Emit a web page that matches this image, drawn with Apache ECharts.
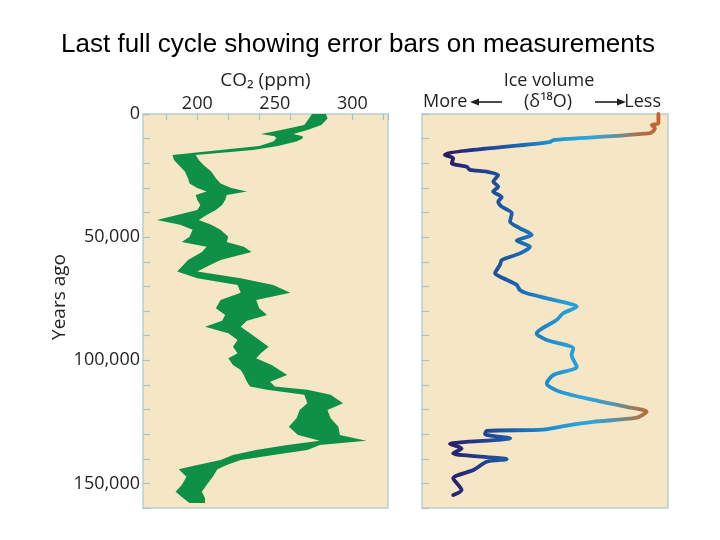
<!DOCTYPE html>
<html><head><meta charset="utf-8">
<script src="https://cdn.jsdelivr.net/npm/echarts/dist/echarts.min.js"></script>
<style>html,body{margin:0;padding:0;background:#fff}#c{width:720px;height:540px}</style>
</head><body><div id="c"></div>
<script>
// CO2 band (thousands of years ago, lower / upper ppm)
const co2Years = [0, 1.8, 4.5, 6.5, 8.1, 9.0, 9.9, 11.2, 13.0, 14.6, 16.6, 18.7, 20.7, 23.4, 26.1, 28.2, 30.0, 31.5, 32.9, 34.9, 37.0, 39.0, 41.0, 43.0, 45.0, 47.0, 49.8, 52.0, 53.9, 56.0, 59.3, 62.0, 64.0, 66.7, 69.4, 72.6, 75.5, 78.9, 81.6, 84.0, 86.4, 89.0, 91.8, 94.5, 97.2, 99.2, 101.9, 104.0, 106.0, 108.7, 110.7, 112.0, 114.0, 117.5, 120.2, 123.6, 127.0, 130.4, 132.7, 134.4, 136.4, 138.5, 140.5, 142.5, 144.3, 147.3, 150.7, 153.4, 156.0, 158.0];
const co2Low   = [274, 272, 269, 254, 241, 250, 251, 249, 240, 215, 184, 185, 188, 192, 194, 195, 200, 206, 199, 200, 202, 200, 187, 174, 189, 197, 195, 190, 206, 203, 194, 190, 187, 200, 226, 228, 215, 212, 218, 216, 205, 220, 226, 223, 226, 220, 223, 228, 230, 232, 234, 245, 269, 271, 266, 264, 259, 265, 279, 258, 238, 223, 215, 200, 188, 193, 190, 186, 191, 195];
const co2High  = [283, 284, 280, 271, 262, 268, 268, 264, 252, 236, 199, 201, 204, 209, 212, 215, 222, 232, 219, 218, 216, 212, 206, 201, 209, 215, 220, 219, 230, 235, 215, 206, 200, 228, 249, 260, 238, 240, 245, 232, 228, 234, 240, 246, 241, 238, 248, 253, 258, 247, 250, 271, 286, 294, 284, 286, 291, 292, 309, 279, 271, 249, 228, 219, 213, 210, 206, 203, 205, 205];

// Ice volume (relative position, 0 = more ice, 100 = less ice)
const iceYears = [0, 3.8, 4.5, 5.8, 7.8, 10.6, 11.4, 16.6, 18.0, 20.0, 21.4, 22.7, 23.4, 24.8, 27.5, 29.5, 31.5, 33.8, 35.6, 37.6, 40.3, 43.7, 46.4, 49.1, 51.4, 53.9, 56.6, 59.3, 61.3, 64.7, 66.7, 69.4, 71.5, 72.8, 75.5, 78.3, 80.9, 83.7, 89.1, 91.8, 95.2, 97.9, 102.6, 106.0, 109.4, 112.8, 116.1, 118.9, 120.9, 123.3, 125.0, 126.5, 128.2, 128.7, 130.0, 131.7, 134.0, 135.8, 137.8, 140.2, 141.2, 144.6, 147.9, 152.7, 154.7];
const iceValue = [96.1, 96.1, 93.4, 94.7, 92.7, 53.4, 52.0, 9.3, 12.7, 12.1, 18.2, 19.5, 26.3, 31.0, 29.0, 31.0, 28.9, 32.4, 31.0, 32.4, 36.5, 35.8, 39.8, 44.6, 38.5, 43.9, 39.8, 32.4, 31.7, 29.7, 33.1, 38.5, 39.8, 42.6, 53.4, 62.9, 57.4, 54.7, 46.6, 50.7, 61.5, 60.8, 62.9, 53.4, 50.7, 56.1, 69.6, 83.2, 91.3, 87.3, 69.6, 58.8, 49.3, 26.3, 25.6, 35.8, 11.4, 16.1, 12.7, 34.4, 26.3, 20.9, 12.7, 16.1, 12.7];

const co2TickLabels = [200, 250, 300];
const yearTickLabels = [0, 50000, 100000, 150000];

const FONT = '"Open Sans", "Noto Sans", sans-serif';
const TXT = '#231f20';
const TICK = '#a9c2c8';
const BG = '#f5e7c6';
const BORDER = '#b9cfd2';

const chart = echarts.init(document.getElementById('c'));
chart.setOption({
  animation: false,
  backgroundColor: '#ffffff',
  grid: [
    {left: 143, top: 114, width: 245, height: 394, show: true, backgroundColor: BG, borderColor: BORDER, borderWidth: 1.5},
    {left: 422, top: 114, width: 246, height: 394, show: true, backgroundColor: BG, borderColor: BORDER, borderWidth: 1.5},
    {left: 166, top: 114, width: 222, height: 394, show: false}
  ],
  xAxis: [
    {type: 'value', gridIndex: 0, position: 'top', min: 165, max: 323, interval: 5,
     axisLine: {show: false}, axisTick: {show: false}, splitLine: {show: false},
     axisLabel: {margin: 1, fontSize: 18, fontFamily: FONT, color: TXT,
       formatter: v => co2TickLabels.indexOf(v) >= 0 ? String(v) : ''},
     name: 'CO₂ (ppm)', nameLocation: 'middle', nameGap: 21,
     nameTextStyle: {fontSize: 19, fontFamily: FONT, color: TXT}},
    {type: 'value', gridIndex: 1, min: 0, max: 100, show: false},
    {type: 'value', gridIndex: 2, position: 'top', min: 180, max: 323, interval: 20,
     axisLine: {show: false}, splitLine: {show: false}, axisLabel: {show: false},
     axisTick: {show: true, inside: true, length: 6, lineStyle: {color: TICK, width: 1.2}}}
  ],
  yAxis: [
    {type: 'value', gridIndex: 0, inverse: true, min: 0, max: 160000, interval: 10000,
     axisLine: {show: false}, splitLine: {show: false},
     axisTick: {show: true, inside: true, length: 7, lineStyle: {color: TICK, width: 1.2}},
     axisLabel: {margin: 3, fontSize: 18, fontFamily: FONT, color: TXT, padding: [6, 0, 0, 0],
       formatter: v => yearTickLabels.indexOf(v) >= 0 ? v.toLocaleString('en-US') : ''},
     name: 'Years ago', nameLocation: 'middle', nameGap: 74, nameRotate: 90,
     nameTextStyle: {fontSize: 19, fontFamily: FONT, color: TXT, padding: [0, 0, 0, 28]}},
    {type: 'value', gridIndex: 1, inverse: true, min: 0, max: 160000, interval: 10000,
     axisLine: {show: false}, splitLine: {show: false}, axisLabel: {show: false},
     axisTick: {show: true, inside: true, length: 7, lineStyle: {color: TICK, width: 1.2}}},
    {type: 'value', gridIndex: 2, inverse: true, min: 0, max: 160000, show: false}
  ],
  visualMap: {
    type: 'continuous', show: false, seriesIndex: 1, dimension: 0, min: 9, max: 96,
    inRange: {color: ['#2a1760', '#262f7e', '#1f4a98', '#1d62ad', '#1f80c4', '#249bd6', '#2aa5dc', '#4e97b5', '#9b7a58', '#c9612b']}
  },
  series: [
    {type: 'custom', xAxisIndex: 0, yAxisIndex: 0,
     data: co2Years.map((y, i) => [co2Low[i], co2High[i], y * 1000]),
     encode: {x: [0, 1], y: 2},
     renderItem: function (params, api) {
       if (params.dataIndex !== 0) return null;
       const pts = [];
       for (let i = 0; i < co2Years.length; i++) pts.push(api.coord([co2High[i], co2Years[i] * 1000]));
       for (let i = co2Years.length - 1; i >= 0; i--) pts.push(api.coord([co2Low[i], co2Years[i] * 1000]));
       return {type: 'polygon', shape: {points: pts}, style: {fill: '#0e9046'}};
     }},
    {type: 'line', xAxisIndex: 1, yAxisIndex: 1, showSymbol: false, smooth: 0.25,
     data: iceYears.map((y, i) => [iceValue[i], y * 1000]),
     lineStyle: {width: 3.8, cap: 'round', join: 'round'}}
  ],
  graphic: [
    {type: 'text', x: 358, y: 45, style: {text: 'Last full cycle showing error bars on measurements', font: '26px "Liberation Sans", Arial, sans-serif', fill: '#000', align: 'center', verticalAlign: 'middle'}},
    {type: 'text', x: 549, y: 81, style: {text: 'Ice volume', font: '18px ' + FONT, fill: TXT, align: 'center', verticalAlign: 'middle'}},
    {type: 'text', x: 423, y: 102, style: {text: 'More', font: '18px ' + FONT, fill: TXT, align: 'left', verticalAlign: 'middle'}},
    {type: 'text', x: 548, y: 102, style: {text: '(δ¹⁸O)', font: '18px ' + FONT, fill: TXT, align: 'center', verticalAlign: 'middle'}},
    {type: 'text', x: 661, y: 102, style: {text: 'Less', font: '18px ' + FONT, fill: TXT, align: 'right', verticalAlign: 'middle'}},
    {type: 'line', shape: {x1: 477, y1: 102, x2: 502, y2: 102}, style: {stroke: TXT, lineWidth: 1.6}},
    {type: 'polygon', shape: {points: [[470, 102], [479, 98.5], [479, 105.5]]}, style: {fill: TXT}},
    {type: 'line', shape: {x1: 595, y1: 102, x2: 619, y2: 102}, style: {stroke: TXT, lineWidth: 1.6}},
    {type: 'polygon', shape: {points: [[626, 102], [617, 98.5], [617, 105.5]]}, style: {fill: TXT}}
  ]
});
</script>
</body></html>
